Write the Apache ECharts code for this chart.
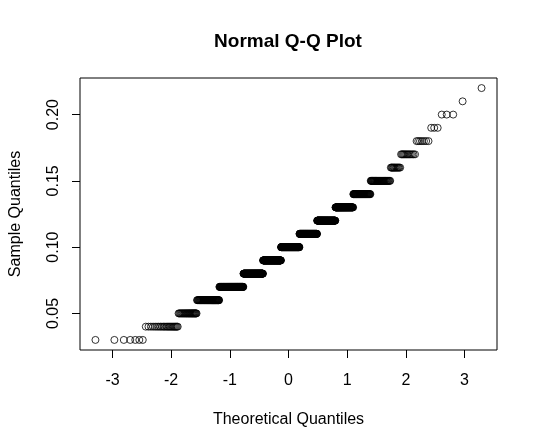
<!DOCTYPE html>
<html>
<head>
<meta charset="utf-8">
<title>Normal Q-Q Plot</title>
<script src="https://cdn.jsdelivr.net/npm/echarts@6/dist/echarts.min.js"></script>
<style>
    html, body { margin: 0; padding: 0; background: #fff; }
    #main { width: 538px; height: 448px; }
</style>
</head>
<body>
<div id="main"></div>
<script>
// sample values (rounded to 0.01) and how many observations have each value
var sampleValues = [0.03, 0.04, 0.05, 0.06, 0.07, 0.08, 0.09, 0.10, 0.11, 0.12,
                    0.13, 0.14, 0.15, 0.16, 0.17, 0.18, 0.19, 0.20, 0.21, 0.22];
var sampleCounts = [7, 23, 29, 60, 102, 111, 117, 125, 113, 101,
                    77, 54, 40, 13, 13, 7, 3, 3, 1, 1];
// tick labels
var xTicks = [-3, -2, -1, 0, 1, 2, 3];
var yTicks = [0.05, 0.10, 0.15, 0.20];

var FONT = 'Liberation Sans, Arial, Helvetica, sans-serif';

// inverse of the standard normal cdf (Acklam)
function qnorm(p) {
    var a = [-3.969683028665376e+01, 2.209460984245205e+02, -2.759285104469687e+02,
             1.383577518672690e+02, -3.066479806614716e+01, 2.506628277459239e+00];
    var b = [-5.447609879822406e+01, 1.615858368580409e+02, -1.556989798598866e+02,
             6.680131188771972e+01, -1.328068155288572e+01];
    var c = [-7.784894002430293e-03, -3.223964580411365e-01, -2.400758277161838e+00,
             -2.549671743506671e+00, 4.374664141464968e+00, 2.938163982698783e+00];
    var d = [7.784695709041462e-03, 3.224671290700398e-01, 2.445134137142996e+00,
             3.754408661907416e+00];
    var q, r;
    if (p < 0.02425) {
        q = Math.sqrt(-2 * Math.log(p));
        return (((((c[0] * q + c[1]) * q + c[2]) * q + c[3]) * q + c[4]) * q + c[5]) /
               ((((d[0] * q + d[1]) * q + d[2]) * q + d[3]) * q + 1);
    }
    if (p > 1 - 0.02425) {
        q = Math.sqrt(-2 * Math.log(1 - p));
        return -(((((c[0] * q + c[1]) * q + c[2]) * q + c[3]) * q + c[4]) * q + c[5]) /
                ((((d[0] * q + d[1]) * q + d[2]) * q + d[3]) * q + 1);
    }
    q = p - 0.5;
    r = q * q;
    return (((((a[0] * r + a[1]) * r + a[2]) * r + a[3]) * r + a[4]) * r + a[5]) * q /
           (((((b[0] * r + b[1]) * r + b[2]) * r + b[3]) * r + b[4]) * r + 1);
}

// build the q-q points the way qqnorm does: sorted sample vs qnorm(ppoints(n))
function qqPoints() {
    var n = 0, i, k;
    for (i = 0; i < sampleCounts.length; i++) n += sampleCounts[i];
    var pts = [];
    var rank = 0;
    for (i = 0; i < sampleValues.length; i++) {
        for (k = 0; k < sampleCounts[i]; k++) {
            rank++;
            pts.push([qnorm((rank - 0.5) / n), sampleValues[i]]);
        }
    }
    return pts;
}

// R style axis range: data range stretched by 4%
function rRange(lo, hi) {
    var pad = (hi - lo) * 0.04;
    return [lo - pad, hi + pad];
}

var points = qqPoints();
var xr = rRange(points[0][0], points[points.length - 1][0]);
var yr = rRange(sampleValues[0], sampleValues[sampleValues.length - 1]);

var myChart = echarts.init(document.getElementById('main'), null, { renderer: 'canvas' });

var option = {
    animation: false,
    backgroundColor: '#fff',
    textStyle: { fontFamily: FONT, color: '#000' },
    graphic: [{
        type: 'text',
        x: 288,
        y: 42,
        style: {
            text: 'Normal Q-Q Plot',
            fill: '#000',
            font: 'bold 19px ' + FONT,
            align: 'center',
            verticalAlign: 'middle'
        }
    }],
    grid: {
        left: 79,
        right: 41,
        top: 78,
        bottom: 98,
        show: true,
        borderColor: '#000',
        borderWidth: 1,
        backgroundColor: 'transparent'
    },
    xAxis: {
        type: 'value',
        min: xr[0],
        max: xr[1],
        name: 'Theoretical Quantiles',
        nameLocation: 'middle',
        nameGap: 62,
        nameTextStyle: { fontSize: 16, color: '#000', fontFamily: FONT },
        axisLine: { show: false, onZero: false },
        splitLine: { show: false },
        axisTick: {
            show: true,
            length: 8,
            customValues: xTicks,
            lineStyle: { color: '#000', width: 1 }
        },
        axisLabel: {
            fontSize: 16,
            color: '#000',
            fontFamily: FONT,
            margin: 23,
            customValues: xTicks,
            formatter: function (v) { return String(v); }
        }
    },
    yAxis: {
        type: 'value',
        min: yr[0],
        max: yr[1],
        name: 'Sample Quantiles',
        nameLocation: 'middle',
        nameGap: 56,
        nameRotate: 90,
        nameTextStyle: { fontSize: 16, color: '#000', fontFamily: FONT },
        axisLine: { show: false, onZero: false },
        splitLine: { show: false },
        axisTick: {
            show: true,
            length: 8,
            customValues: yTicks,
            lineStyle: { color: '#000', width: 1 }
        },
        axisLabel: {
            fontSize: 16,
            color: '#000',
            fontFamily: FONT,
            rotate: 90,
            margin: 18,
            customValues: yTicks,
            formatter: function (v) { return v.toFixed(2); }
        }
    },
    series: [{
        type: 'scatter',
        data: points,
        symbol: 'circle',
        symbolSize: 7,
        silent: true,
        itemStyle: {
            color: 'rgba(0,0,0,0)',
            borderColor: '#000',
            borderWidth: 1
        }
    }]
};

myChart.setOption(option);
</script>
</body>
</html>
